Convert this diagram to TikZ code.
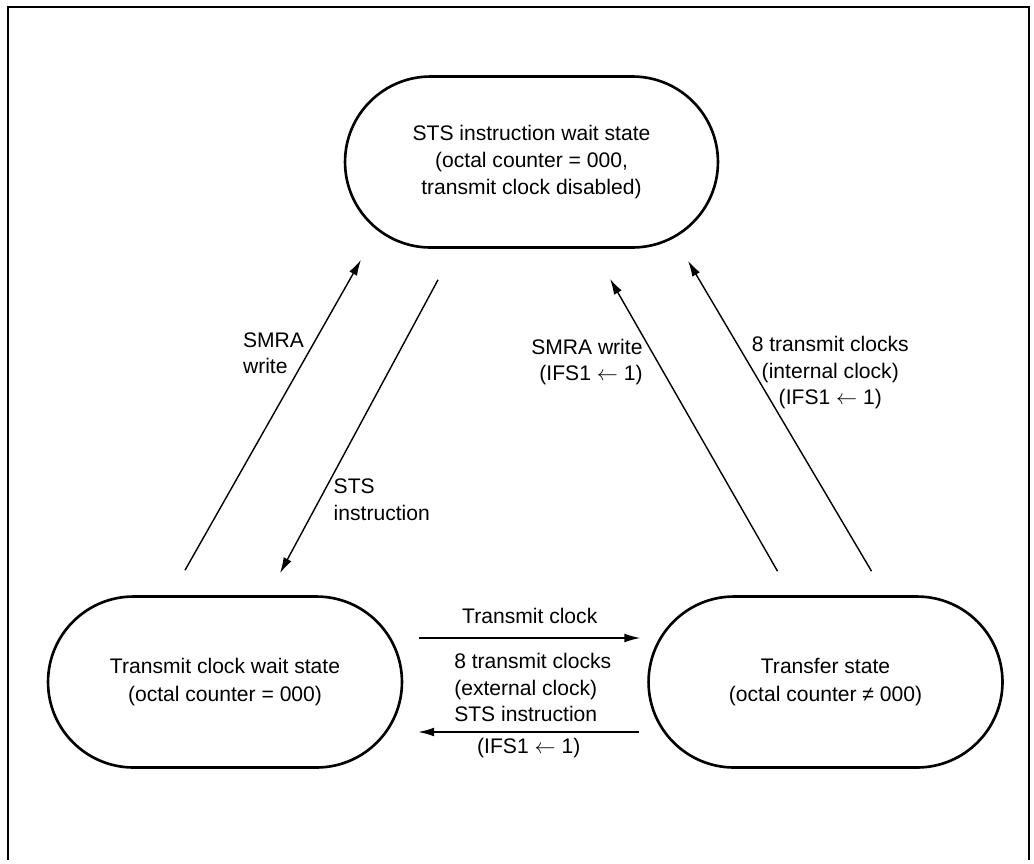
\documentclass[tikz,border=0pt]{standalone}
\usepackage{fontspec}
\setmainfont{Liberation Sans}
\usepackage{tikz}
\usetikzlibrary{arrows.meta,positioning,shapes.misc}

\begin{document}
\begin{tikzpicture}[
  x=0.02cm, y=-0.02cm,
  font=\fontsize{12}{15.5}\selectfont,
  state/.style={draw, rounded rectangle, line width=1.5pt, align=center,
    minimum width=7.08cm, minimum height=3.42cm, inner sep=0pt},
  arr/.style={-{Latex[length=9pt,width=5pt]}, line width=0.8pt},
  lbl/.style={inner sep=2pt, font=\fontsize{12}{15}\selectfont}
]
\useasboundingbox (0,0) rectangle (1034,863);
% frame, open at the bottom
\draw[line width=1.1pt] (8,860) -- (8,7) -- (1029,7) -- (1029,860);

\node[state, minimum width=7.46cm] (wait) at (531.5,162) {STS instruction wait state\\(octal counter = 000,\\transmit clock disabled)};
\node[state] (clkwait) at (225,682) {Transmit clock wait state\\(octal counter = 000)};
\node[state, right=4.88cm of clkwait] (xfer) {Transfer state\\(octal counter ≠ 000)};

\draw[arr] ([shift={(-40,-25)}]clkwait.north) -- node[lbl, pos=0.70, anchor=east, align=left] {SMRA\\write} ([shift={(-170.5,11)}]wait.south);
\draw[arr] ([shift={(-93.5,31)}]wait.south) -- node[lbl, pos=0.75, anchor=west, xshift=0.2cm, align=left] {STS\\instruction} ([shift={(55,-22)}]clkwait.north);
\draw[arr] ([shift={(-48,-24)}]xfer.north) -- node[lbl, pos=0.715, anchor=east, xshift=-0.22cm, align=right] {SMRA write\\(IFS1 $\leftarrow$ 1)} ([shift={(78.5,30)}]wait.south);
\draw[arr] ([shift={(46,-24)}]xfer.north) -- node[lbl, pos=0.64, anchor=west, xshift=-0.13cm, align=center] {8 transmit clocks\\(internal clock)\\(IFS1 $\leftarrow$ 1)} ([shift={(156.5,12)}]wait.south);
\draw[arr] ([shift={(16,-44)}]clkwait.east) -- node[lbl, above, yshift=0.2cm] {Transmit clock} ([shift={(-7,-44)}]xfer.west);
\draw[arr] ([shift={(-8,50)}]xfer.west) -- node[lbl, above, align=left, xshift=0.08cm, yshift=0.12cm] {8 transmit clocks\\(external clock)\\STS instruction} node[lbl, below, yshift=-0.04cm] {(IFS1 $\leftarrow$ 1)} ([shift={(15,50)}]clkwait.east);
\end{tikzpicture}
\end{document}
